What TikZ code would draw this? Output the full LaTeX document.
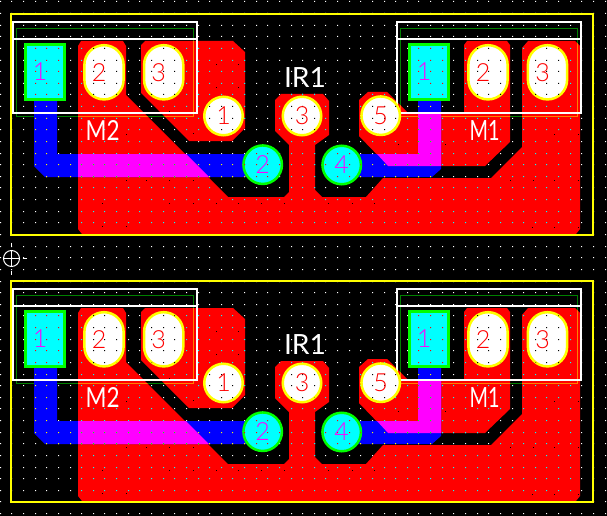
\documentclass[tikz,border=0pt]{standalone}
\usepackage{fontspec}
\newfontfamily\padfont{Lato}[UprightFont=* Light]
\newfontfamily\silkfont{Lato}
\definecolor{zonegreen}{RGB}{0,128,0}
\definecolor{zoneorange}{RGB}{255,128,0}
\definecolor{padyellow}{RGB}{255,255,0}
\definecolor{padgreen}{RGB}{0,255,0}
\definecolor{padcyan}{RGB}{0,255,255}
\definecolor{padmagenta}{RGB}{255,0,255}
\definecolor{copperred}{RGB}{255,0,0}
\definecolor{copperblue}{RGB}{0,0,255}
\tikzset{
	ovalpad/.style={draw=padyellow, fill=white, line width=2.5pt, rounded corners=19.5pt, inner sep=0pt, minimum width=39.2pt, minimum height=54.2pt},
	roundpad/.style={circle, draw=padyellow, fill=white, line width=2.5pt, inner sep=0pt, minimum size=38.5pt},
	viapad/.style={circle, draw=padgreen, fill=padcyan, line width=2.5pt, inner sep=0pt, minimum size=38.5pt},
	squarepad/.style={draw=padgreen, fill=padcyan, line width=3pt, inner sep=0pt, minimum width=39pt, minimum height=55pt},
	silk/.style={draw=white, line width=2pt},
	silktext/.style={text=white, inner sep=0pt, font=\silkfont\fontsize{29}{29}\selectfont},
	padtext/.style={text=copperred, inner sep=0pt, font=\padfont\fontsize{25}{25}\selectfont},
	viatext/.style={padtext, text=padmagenta}
}
\newcommand{\griddots}[1]{\fill[#1] foreach \i in {0,...,52} { foreach \j in {0,...,21} { ({floor(\i*11.63+0.3)},{floor(\j*11.63+\gridstart)}) rectangle ++(1,-1) } };}
\newcommand{\copperpath}{(78,229)--(78,46)--(81,41)--(123,41)--(126,46)--(126,95)--(228,197)--(284,197)--(289,192)--(289,145)--(275,131)--(275,100)--(281,94)--(323,94)--(329,101)--(329,135)--(315,145)--(315,190)--(322,197)--(366,197)--(383,178)--(491,178)--(522,147)--(522,48)--(528,41)--(575,41)--(580,46)--(580,229)--(576,234)--(82,234)--cycle
	(141,45)--(145,41)--(233,41)--(245,52)--(245,128)--(232,141)--(189,141)--(141,93)--cycle
	(464,45)--(467,41)--(507,41)--(510,45)--(510,142)--(485,166)--(388,166)--(359,136)--(359,100)--(368,92)--(387,92)--(409,114)--(461,114)--(464,112)--cycle}
\newcommand{\bluepath}{(34,100)--(57,100)--(57,154)--(263,154)--(263,177)--(45,177)--(34,166)--cycle
	(418,100)--(441,100)--(441,169)--(432,177)--(342,177)--(342,154)--(418,154)--cycle}
\newcommand{\magentapath}{(78,154)--(186,154)--(209,177)--(78,177)--cycle
	(418,114)--(441,114)--(441,166)--(388,166)--(377,154)--(418,154)--cycle}
\newcommand{\whitepath}{(223.5,116) circle (19) (302,116) circle (19) (380.7,115.7) circle (19)
	[rounded corners=19] (84.5,45.2) rectangle (123.5,99.4) (144.2,45.2) rectangle (183.2,99.4) (468.5,45.2) rectangle (507.5,99.4) (528,45.2) rectangle (567,99.4)}
\newcommand{\cyanpath}{(262.7,164.7) circle (19) (341.7,165) circle (19) (25.5,44.5) rectangle (64.5,99.5) (409.5,44.5) rectangle (448.5,99.5)}
\begin{document}
\begin{tikzpicture}[x=1pt, y=-1pt]
	\fill[black] (0,0) rectangle (607,516);
	\fill[white] foreach \i in {0,...,52} { foreach \j in {0,...,44} { ({floor(\i*11.63+0.3)},{floor(\j*11.63+2.9)}) rectangle ++(1,-1) } };
	\draw[white, line width=1pt] (2.7,258.5)--(19.3,258.5);
	\draw[white, line width=1pt] (22.7,258.5)--(26.7,258.5);
	\draw[white, line width=1pt] (11.5,250)--(11.5,266.7);
	\draw[white, line width=1pt] (11.5,242.7)--(11.5,246.7);
	\draw[white, line width=1pt] (11.5,270.7)--(11.5,275);
	\draw[white, line width=1pt] (11.5,258.5) circle (8);
	\foreach \boardy/\boardname/\gridstart in {0/a/2.9,267/b/3.39} {
		\begin{scope}[shift={(0,\boardy)}]
			\draw[zonegreen, line width=1pt] (16.3,28.3) rectangle (193.7,116.5);
			\draw[zonegreen, line width=1pt] (400.3,28.3) rectangle (577.7,116.5);
			\fill[copperred] \copperpath;
			\begin{scope}
				\clip \copperpath;
				\griddots{padcyan}
				\draw[zoneorange, line width=1pt] (16.3,28.3) rectangle (193.7,116.5);
				\draw[zoneorange, line width=1pt] (400.3,28.3) rectangle (577.7,116.5);
			\end{scope}
			\foreach \dotx/\doty in {216/65,238/65,216/88,238/88,193/134,169/112,126/135,146/158,169/158,126/181,146/181,169/181,193/181,102/204,169/204,193/204,216/204,238/204,261/204,284/204,102/227,126/227,328/204,352/204,374/204,398/145,422/145,445/145,554/135,578/135,510/181,533/181,554/181,578/181,532/228,554/228,578/228}
				\fill[black] (\dotx,\doty) rectangle ++(1,-1);
			\fill[copperblue] \bluepath;
			\begin{scope}
				\clip \bluepath;
				\griddots{padyellow}
			\end{scope}
			\fill[padmagenta] \magentapath;
			\begin{scope}
				\clip \magentapath;
				\griddots{padgreen}
			\end{scope}
			\draw[silk] (13,22.3) rectangle (197,113);
			\draw[silk] (13,38.8)--(197,38.8);
			\draw[silk] (397,22.3) rectangle (581,113);
			\draw[silk] (397,38.8)--(581,38.8);
			\node[squarepad] (m2one\boardname) at (45,72) {};
			\node[ovalpad] (m2two\boardname) at (104,72.3) {};
			\node[ovalpad] (m2three\boardname) at (163.7,72.3) {};
			\node[squarepad] (m1one\boardname) at (429,72) {};
			\node[ovalpad] (m1two\boardname) at (488,72.3) {};
			\node[ovalpad] (m1three\boardname) at (547.5,72.3) {};
			\node[roundpad] (irone\boardname) at (223.5,116) {};
			\node[viapad] (irtwo\boardname) at (262.7,164.7) {};
			\node[roundpad] (irthree\boardname) at (302,116) {};
			\node[viapad] (irfour\boardname) at (341.7,165) {};
			\node[roundpad] (irfive\boardname) at (380.7,115.7) {};
			\begin{scope}
				\clip \whitepath;
				\griddots{black}
			\end{scope}
			\begin{scope}
				\clip \cyanpath;
				\griddots{copperred}
			\end{scope}
			\node[viatext] (m2onetext\boardname) at (m2one\boardname.center) [xshift=-5pt] {1};
			\node[padtext] (m2twotext\boardname) at (m2two\boardname.center) [xshift=-5pt] {2};
			\node[padtext] (m2threetext\boardname) at (m2three\boardname.center) [xshift=-5pt] {3};
			\node[viatext] (m1onetext\boardname) at (m1one\boardname.center) [xshift=-5pt] {1};
			\node[padtext] (m1twotext\boardname) at (m1two\boardname.center) [xshift=-5pt] {2};
			\node[padtext] (m1threetext\boardname) at (m1three\boardname.center) [xshift=-5pt] {3};
			\node[padtext] (ironetext\boardname) at (irone\boardname.center) {1};
			\node[viatext] (irtwotext\boardname) at (irtwo\boardname.center) {2};
			\node[padtext] (irthreetext\boardname) at (irthree\boardname.center) {3};
			\node[viatext] (irfourtext\boardname) at (irfour\boardname.center) {4};
			\node[padtext] (irfivetext\boardname) at (irfive\boardname.center) {5};
			\node[silktext] (mtwo\boardname) at (102.7,130.7) {\resizebox{34pt}{20pt}{M2}};
			\node[silktext] (mone\boardname) at (484.7,130.7) {\resizebox{30pt}{20pt}{M1}};
			\node[silktext] (irlabel\boardname) at (305,77.7) {\resizebox{42pt}{20pt}{IR1}};
			\draw[padyellow, line width=2pt] (11.3,14) rectangle (593,235);
		\end{scope}
	}
\end{tikzpicture}
\end{document}
